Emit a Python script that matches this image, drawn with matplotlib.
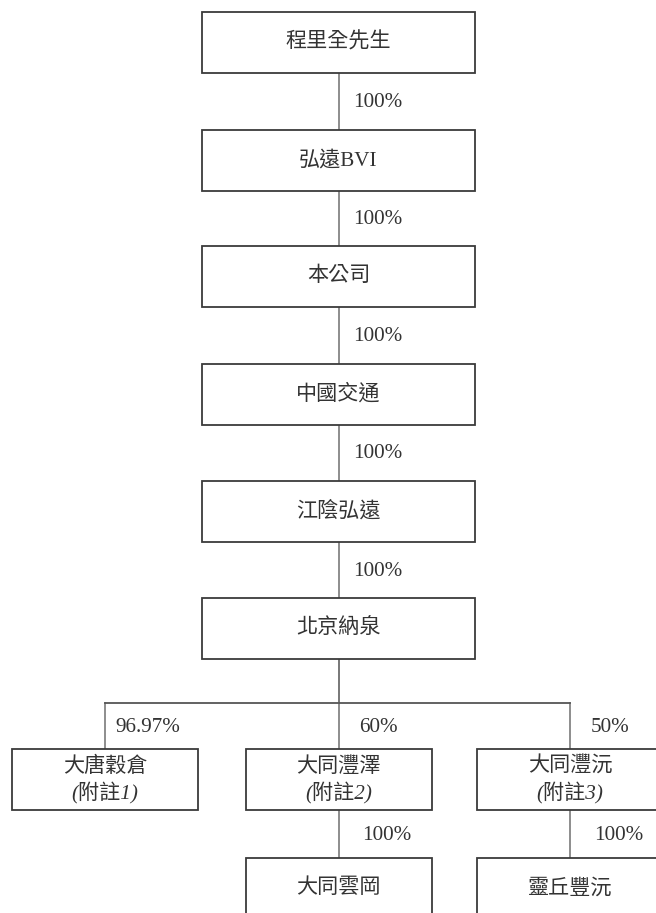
import matplotlib
matplotlib.use("Agg")
import matplotlib.pyplot as plt
from matplotlib.patches import Rectangle

# ---- data ----
names = ["程里全先生", "弘遠BVI", "本公司", "中國交通", "江陰弘遠", "北京納泉",
         "大唐穀倉", "大同灃澤", "大同灃沅", "大同雲岡", "靈丘豐沅"]
notes = ["", "", "", "", "", "", "(附註1)", "(附註2)", "(附註3)", "", ""]
parents = [None, 0, 1, 2, 3, 4, 5, 5, 5, 7, 8]
shares = ["", "100%", "100%", "100%", "100%", "100%", "96.97%", "60%", "50%", "100%", "100%"]
levels = [0, 1, 2, 3, 4, 5, 6, 6, 6, 7, 7]
columns = [1, 1, 1, 1, 1, 1, 0, 1, 2, 1, 2]

# ---- layout (pixels) ----
W, H = 656, 913
col_x = {0: 105, 1: 338.5, 2: 570}
chain_w, leaf_w, box_h = 273, 186, 61
level_top = [12, 130, 246, 364, 481, 598, 749, 858]
bus_y = 703
line_col = "#7a7a7a"
edge_col = "#3a3a3a"
txt_col = "#333333"
FAM = ["Liberation Serif", "Noto Sans CJK TC"]
FS = 15.2

fig = plt.figure(figsize=(W / 100, H / 100), dpi=100)
ax = fig.add_axes([0, 0, 1, 1])
ax.set_xlim(0, W)
ax.set_ylim(H, 0)
ax.axis("off")

def box_geom(i):
    w = chain_w if levels[i] <= 5 else leaf_w
    cx = col_x[columns[i]]
    top = level_top[levels[i]]
    return cx, top, w

# connectors
for i, p in enumerate(parents):
    if p is None:
        continue
    cx, top, w = box_geom(i)
    pcx, ptop, pw = box_geom(p)
    pbot = ptop + box_h
    if levels[i] == 6:
        ax.plot([pcx, pcx], [pbot, bus_y], color=line_col, lw=1.2, zorder=1)
        ax.plot([cx, cx], [bus_y, top], color=line_col, lw=1.2, zorder=1)
        ax.plot([min(cx, pcx), max(cx, pcx)], [bus_y, bus_y],
                color="#555555", lw=1.3, zorder=1)
        ly = (bus_y + top) / 2 + 1
        off = 10 if columns[i] == 0 else 21
    else:
        ax.plot([cx, cx], [pbot, top], color=line_col, lw=1.2, zorder=1)
        ly = (pbot + top) / 2 + 1
        off = 15 if levels[i] <= 5 else 24
    ax.text(cx + off, ly, shares[i], family=FAM, fontsize=FS,
            ha="left", va="center", color=txt_col)

# boxes
for i in range(len(names)):
    cx, top, w = box_geom(i)
    ax.add_patch(Rectangle((cx - w / 2, top), w, box_h, facecolor="white",
                           edgecolor=edge_col, lw=1.3, zorder=2))
    if notes[i]:
        ax.text(cx, top + 18, names[i], family=FAM, fontsize=FS,
                ha="center", va="center", color=txt_col, zorder=3)
        ax.text(cx, top + 44, notes[i], family=FAM, fontsize=FS, style="italic",
                ha="center", va="center", color=txt_col, zorder=3)
    else:
        ax.text(cx, top + box_h / 2, names[i], family=FAM, fontsize=FS,
                ha="center", va="center", color=txt_col, zorder=3)

fig.savefig("out.png", dpi=100)
